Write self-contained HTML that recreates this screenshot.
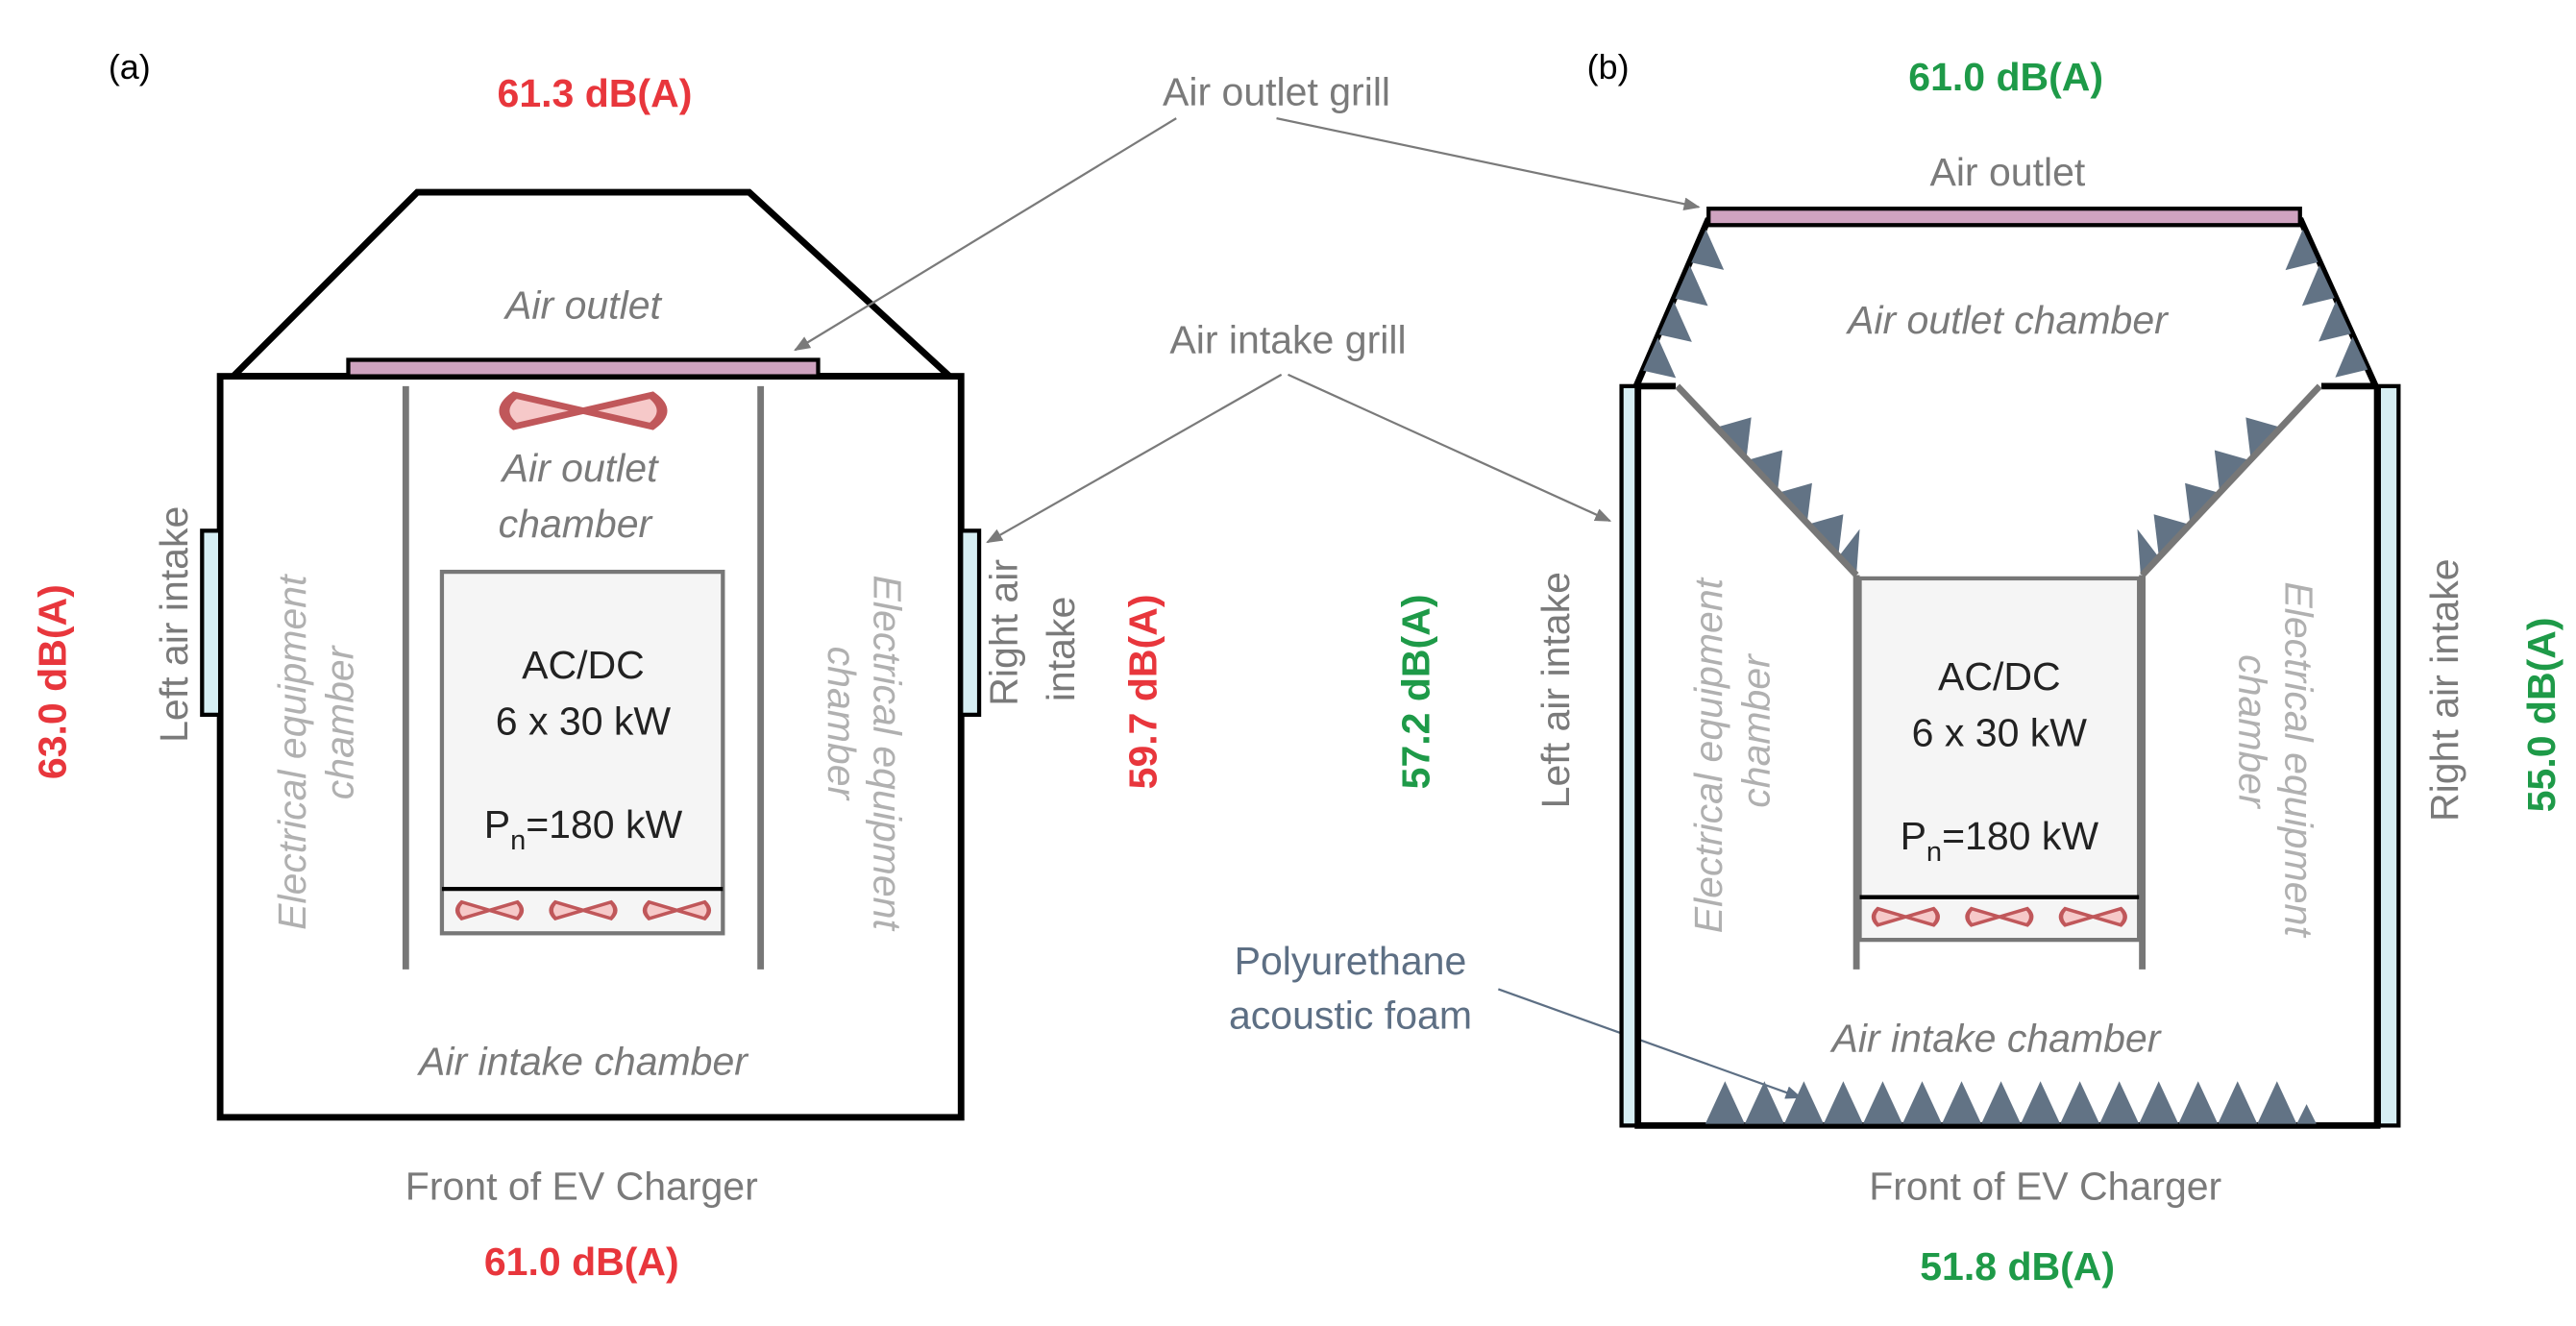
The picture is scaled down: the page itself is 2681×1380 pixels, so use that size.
<!DOCTYPE html>
<html><head><meta charset="utf-8"><style>
html,body{margin:0;padding:0;background:#fff}
svg{display:block}
text{font-family:"Liberation Sans",Arial,sans-serif}
.g{fill:#7a7a7a}
.it{font-style:italic}
.lg{fill:#b0b0b0}
.r{fill:#e8363c;font-weight:bold}
.gr{fill:#1e9a48;font-weight:bold}
</style></head><body>
<svg width="2681" height="1380" viewBox="0 0 1568 807" preserveAspectRatio="none" xmlns="http://www.w3.org/2000/svg">
<defs>
<marker id="ah" markerWidth="10" markerHeight="8" refX="9" refY="4" orient="auto" markerUnits="userSpaceOnUse"><path d="M0,0 L10,4 L0,8 z" fill="#7a7a7a"/></marker>
<marker id="ah2" markerWidth="10" markerHeight="8" refX="9" refY="4" orient="auto" markerUnits="userSpaceOnUse"><path d="M0,0 L10,4 L0,8 z" fill="#5d6f84"/></marker>
<g id="fan"><path d="M-13,-5 Q-17,0 -13,5 L0,0 L13,5 Q17,0 13,-5 L0,0 z" fill="#f6c9c9" stroke="#c0575a" stroke-width="2"/></g>
<polygon id="tris" points="0,0 22,0 18,-20" fill="#627385"/>
</defs>
<text x="66" y="48" font-size="21">(a)</text>
<text x="966" y="48" font-size="21">(b)</text>

<!-- LEFT -->
<polygon points="142,229 254,117 456,117 578,229" fill="none" stroke="#000" stroke-width="4"/>
<rect x="134" y="229" width="451" height="451" fill="#fff" stroke="#000" stroke-width="4"/>
<rect x="212" y="219" width="286" height="10" fill="#cfa3c0" stroke="#000" stroke-width="2.5"/>
<rect x="123" y="323" width="11" height="112" fill="#d6eef3" stroke="#000" stroke-width="2.5"/>
<rect x="585" y="323" width="11" height="112" fill="#d6eef3" stroke="#000" stroke-width="2.5"/>
<line x1="247" y1="235" x2="247" y2="590" stroke="#777" stroke-width="4"/>
<line x1="463" y1="235" x2="463" y2="590" stroke="#777" stroke-width="4"/>
<rect x="269" y="348" width="171" height="220" fill="#f5f5f5" stroke="#777" stroke-width="2.5"/>
<line x1="269" y1="541" x2="440" y2="541" stroke="#000" stroke-width="2.5"/>
<use href="#fan" transform="translate(298,554) scale(1.3 1)"/>
<use href="#fan" transform="translate(355,554) scale(1.3 1)"/>
<use href="#fan" transform="translate(412,554) scale(1.3 1)"/>
<use href="#fan" transform="translate(355,250) scale(3.2 1.9)"/>
<text x="355" y="194" font-size="24" class="g it" text-anchor="middle">Air outlet</text>
<text x="353" y="293" font-size="24" class="g it" text-anchor="middle">Air outlet</text>
<text x="350" y="327" font-size="24" class="g it" text-anchor="middle">chamber</text>
<text x="355" y="413" font-size="24" text-anchor="middle" fill="#222">AC/DC</text>
<text x="355" y="447" font-size="24" text-anchor="middle" fill="#222">6 x 30 kW</text>
<text x="355" y="510" font-size="24" text-anchor="middle" fill="#222">P<tspan font-size="17" dy="7">n</tspan><tspan dy="-7">=180 kW</tspan></text>
<text x="355" y="654" font-size="24" class="g it" text-anchor="middle">Air intake chamber</text>
<text x="354" y="730" font-size="24" class="g" text-anchor="middle">Front of EV Charger</text>
<text x="354" y="776" font-size="24" class="r" text-anchor="middle">61.0 dB(A)</text>
<text x="362" y="65" font-size="24" class="r" text-anchor="middle">61.3 dB(A)</text>
<text transform="translate(40,415) rotate(-90)" font-size="24" class="r" text-anchor="middle">63.0 dB(A)</text>
<text transform="translate(114,380) rotate(-90)" font-size="24" class="g" text-anchor="middle">Left air intake</text>
<text transform="translate(186,458) rotate(-90)" font-size="24" class="lg it" text-anchor="middle">Electrical equipment</text>
<text transform="translate(215,440) rotate(-90)" font-size="24" class="lg it" text-anchor="middle">chamber</text>
<text transform="translate(532,458) rotate(90)" font-size="24" class="lg it" text-anchor="middle">Electrical equipment</text>
<text transform="translate(504,440) rotate(90)" font-size="24" class="lg it" text-anchor="middle">chamber</text>
<text transform="translate(619,385) rotate(-90)" font-size="24" class="g" text-anchor="middle">Right air</text>
<text transform="translate(654,395) rotate(-90)" font-size="24" class="g" text-anchor="middle">intake</text>
<text transform="translate(704,421) rotate(-90)" font-size="24" class="r" text-anchor="middle">59.7 dB(A)</text>

<!-- middle annotations -->
<text x="777" y="64" font-size="24" class="g" text-anchor="middle">Air outlet grill</text>
<text x="784" y="215" font-size="24" class="g" text-anchor="middle">Air intake grill</text>
<line x1="716" y1="72" x2="484" y2="213" stroke="#7a7a7a" stroke-width="1.3" marker-end="url(#ah)"/>
<line x1="777" y1="72" x2="1034" y2="126" stroke="#7a7a7a" stroke-width="1.3" marker-end="url(#ah)"/>
<line x1="780" y1="228" x2="601" y2="330" stroke="#7a7a7a" stroke-width="1.3" marker-end="url(#ah)"/>
<line x1="784" y1="228" x2="980" y2="317" stroke="#7a7a7a" stroke-width="1.3" marker-end="url(#ah)"/>
<text transform="translate(870,421) rotate(-90)" font-size="24" class="gr" text-anchor="middle">57.2 dB(A)</text>
<text x="822" y="593" font-size="24" fill="#5d6f84" text-anchor="middle">Polyurethane</text>
<text x="822" y="626" font-size="24" fill="#5d6f84" text-anchor="middle">acoustic foam</text>
<line x1="912" y1="602" x2="1096" y2="668" stroke="#5d6f84" stroke-width="1.3" marker-end="url(#ah2)"/>

<!-- RIGHT -->
<text x="1221" y="55" font-size="24" class="gr" text-anchor="middle">61.0 dB(A)</text>
<text x="1222" y="113" font-size="24" class="g" text-anchor="middle">Air outlet</text>
<rect x="987" y="235" width="10" height="450" fill="#d6eef3" stroke="#000" stroke-width="2.5"/>
<rect x="1448" y="235" width="12" height="450" fill="#d6eef3" stroke="#000" stroke-width="2.5"/>
<path d="M997,235 L997,685 L1447,685 L1447,235" fill="none" stroke="#000" stroke-width="4"/>
<line x1="996" y1="235" x2="1020" y2="235" stroke="#000" stroke-width="4"/>
<line x1="1413" y1="235" x2="1447" y2="235" stroke="#000" stroke-width="4"/>
<line x1="1040" y1="133" x2="996" y2="235" stroke="#000" stroke-width="4"/>
<line x1="1400" y1="133" x2="1446" y2="235" stroke="#000" stroke-width="4"/>
<g transform="translate(1040,136) rotate(113.96)">
<use href="#tris" x="4"/><use href="#tris" x="28"/><use href="#tris" x="52"/><use href="#tris" x="76"/>
</g>
<g transform="translate(1400,136) rotate(65.1) scale(1,-1)">
<use href="#tris" x="4"/><use href="#tris" x="28"/><use href="#tris" x="52"/><use href="#tris" x="76"/>
</g>
<rect x="1040" y="127" width="360" height="10" fill="#cfa3c0" stroke="#000" stroke-width="2.5"/>
<!-- funnel foam -->
<g fill="#627385">
<polygon points="1045,260 1063,279 1066,254"/>
<polygon points="1064,280 1082,299 1085,274"/>
<polygon points="1082,300 1100,318 1103,294"/>
<polygon points="1101,319 1119,338 1122,313"/>
<polygon points="1119,339 1130,350 1132,322"/>
<polygon points="1388,260 1370,279 1367,254"/>
<polygon points="1369,280 1351,299 1348,274"/>
<polygon points="1351,300 1333,318 1330,294"/>
<polygon points="1332,319 1314,338 1311,313"/>
<polygon points="1314,339 1303,350 1301,322"/>
</g>
<line x1="1021" y1="235" x2="1130" y2="350" stroke="#777" stroke-width="4"/>
<line x1="1412" y1="235" x2="1304" y2="350" stroke="#777" stroke-width="4"/>
<line x1="1130" y1="350" x2="1130" y2="590" stroke="#777" stroke-width="4"/>
<line x1="1304" y1="350" x2="1304" y2="590" stroke="#777" stroke-width="4"/>
<rect x="1132" y="352" width="170" height="220" fill="#f5f5f5" stroke="#777" stroke-width="2.5"/>
<line x1="1132" y1="546" x2="1302" y2="546" stroke="#000" stroke-width="2.5"/>
<use href="#fan" transform="translate(1160,558) scale(1.3 1)"/>
<use href="#fan" transform="translate(1217,558) scale(1.3 1)"/>
<use href="#fan" transform="translate(1274,558) scale(1.3 1)"/>
<text x="1217" y="420" font-size="24" text-anchor="middle" fill="#222">AC/DC</text>
<text x="1217" y="454" font-size="24" text-anchor="middle" fill="#222">6 x 30 kW</text>
<text x="1217" y="517" font-size="24" text-anchor="middle" fill="#222">P<tspan font-size="17" dy="7">n</tspan><tspan dy="-7">=180 kW</tspan></text>
<text x="1222" y="203" font-size="24" class="g it" text-anchor="middle">Air outlet chamber</text>
<text x="1215" y="640" font-size="24" class="g it" text-anchor="middle">Air intake chamber</text>
<text x="1245" y="730" font-size="24" class="g" text-anchor="middle">Front of EV Charger</text>
<text x="1228" y="779" font-size="24" class="gr" text-anchor="middle">51.8 dB(A)</text>
<text transform="translate(955,420) rotate(-90)" font-size="24" class="g" text-anchor="middle">Left air intake</text>
<text transform="translate(1048,460) rotate(-90)" font-size="24" class="lg it" text-anchor="middle">Electrical equipment</text>
<text transform="translate(1077,445) rotate(-90)" font-size="24" class="lg it" text-anchor="middle">chamber</text>
<text transform="translate(1391,462) rotate(90)" font-size="24" class="lg it" text-anchor="middle">Electrical equipment</text>
<text transform="translate(1363,445) rotate(90)" font-size="24" class="lg it" text-anchor="middle">chamber</text>
<text transform="translate(1496,420) rotate(-90)" font-size="24" class="g" text-anchor="middle">Right air intake</text>
<text transform="translate(1555,435) rotate(-90)" font-size="24" class="gr" text-anchor="middle">55.0 dB(A)</text>
<g fill="#627385">
<polygon points="1038,684 1050,658 1062,684"/>
<polygon points="1062,684 1074,658 1086,684"/>
<polygon points="1086,684 1098,658 1110,684"/>
<polygon points="1110,684 1122,658 1134,684"/>
<polygon points="1134,684 1146,658 1158,684"/>
<polygon points="1158,684 1170,658 1182,684"/>
<polygon points="1182,684 1194,658 1206,684"/>
<polygon points="1206,684 1218,658 1230,684"/>
<polygon points="1230,684 1242,658 1254,684"/>
<polygon points="1254,684 1266,658 1278,684"/>
<polygon points="1278,684 1290,658 1302,684"/>
<polygon points="1302,684 1314,658 1326,684"/>
<polygon points="1326,684 1338,658 1350,684"/>
<polygon points="1350,684 1362,658 1374,684"/>
<polygon points="1374,684 1386,658 1398,684"/>
<polygon points="1398,684 1404,672 1410,684"/>
</g>
</svg>
</body></html>
